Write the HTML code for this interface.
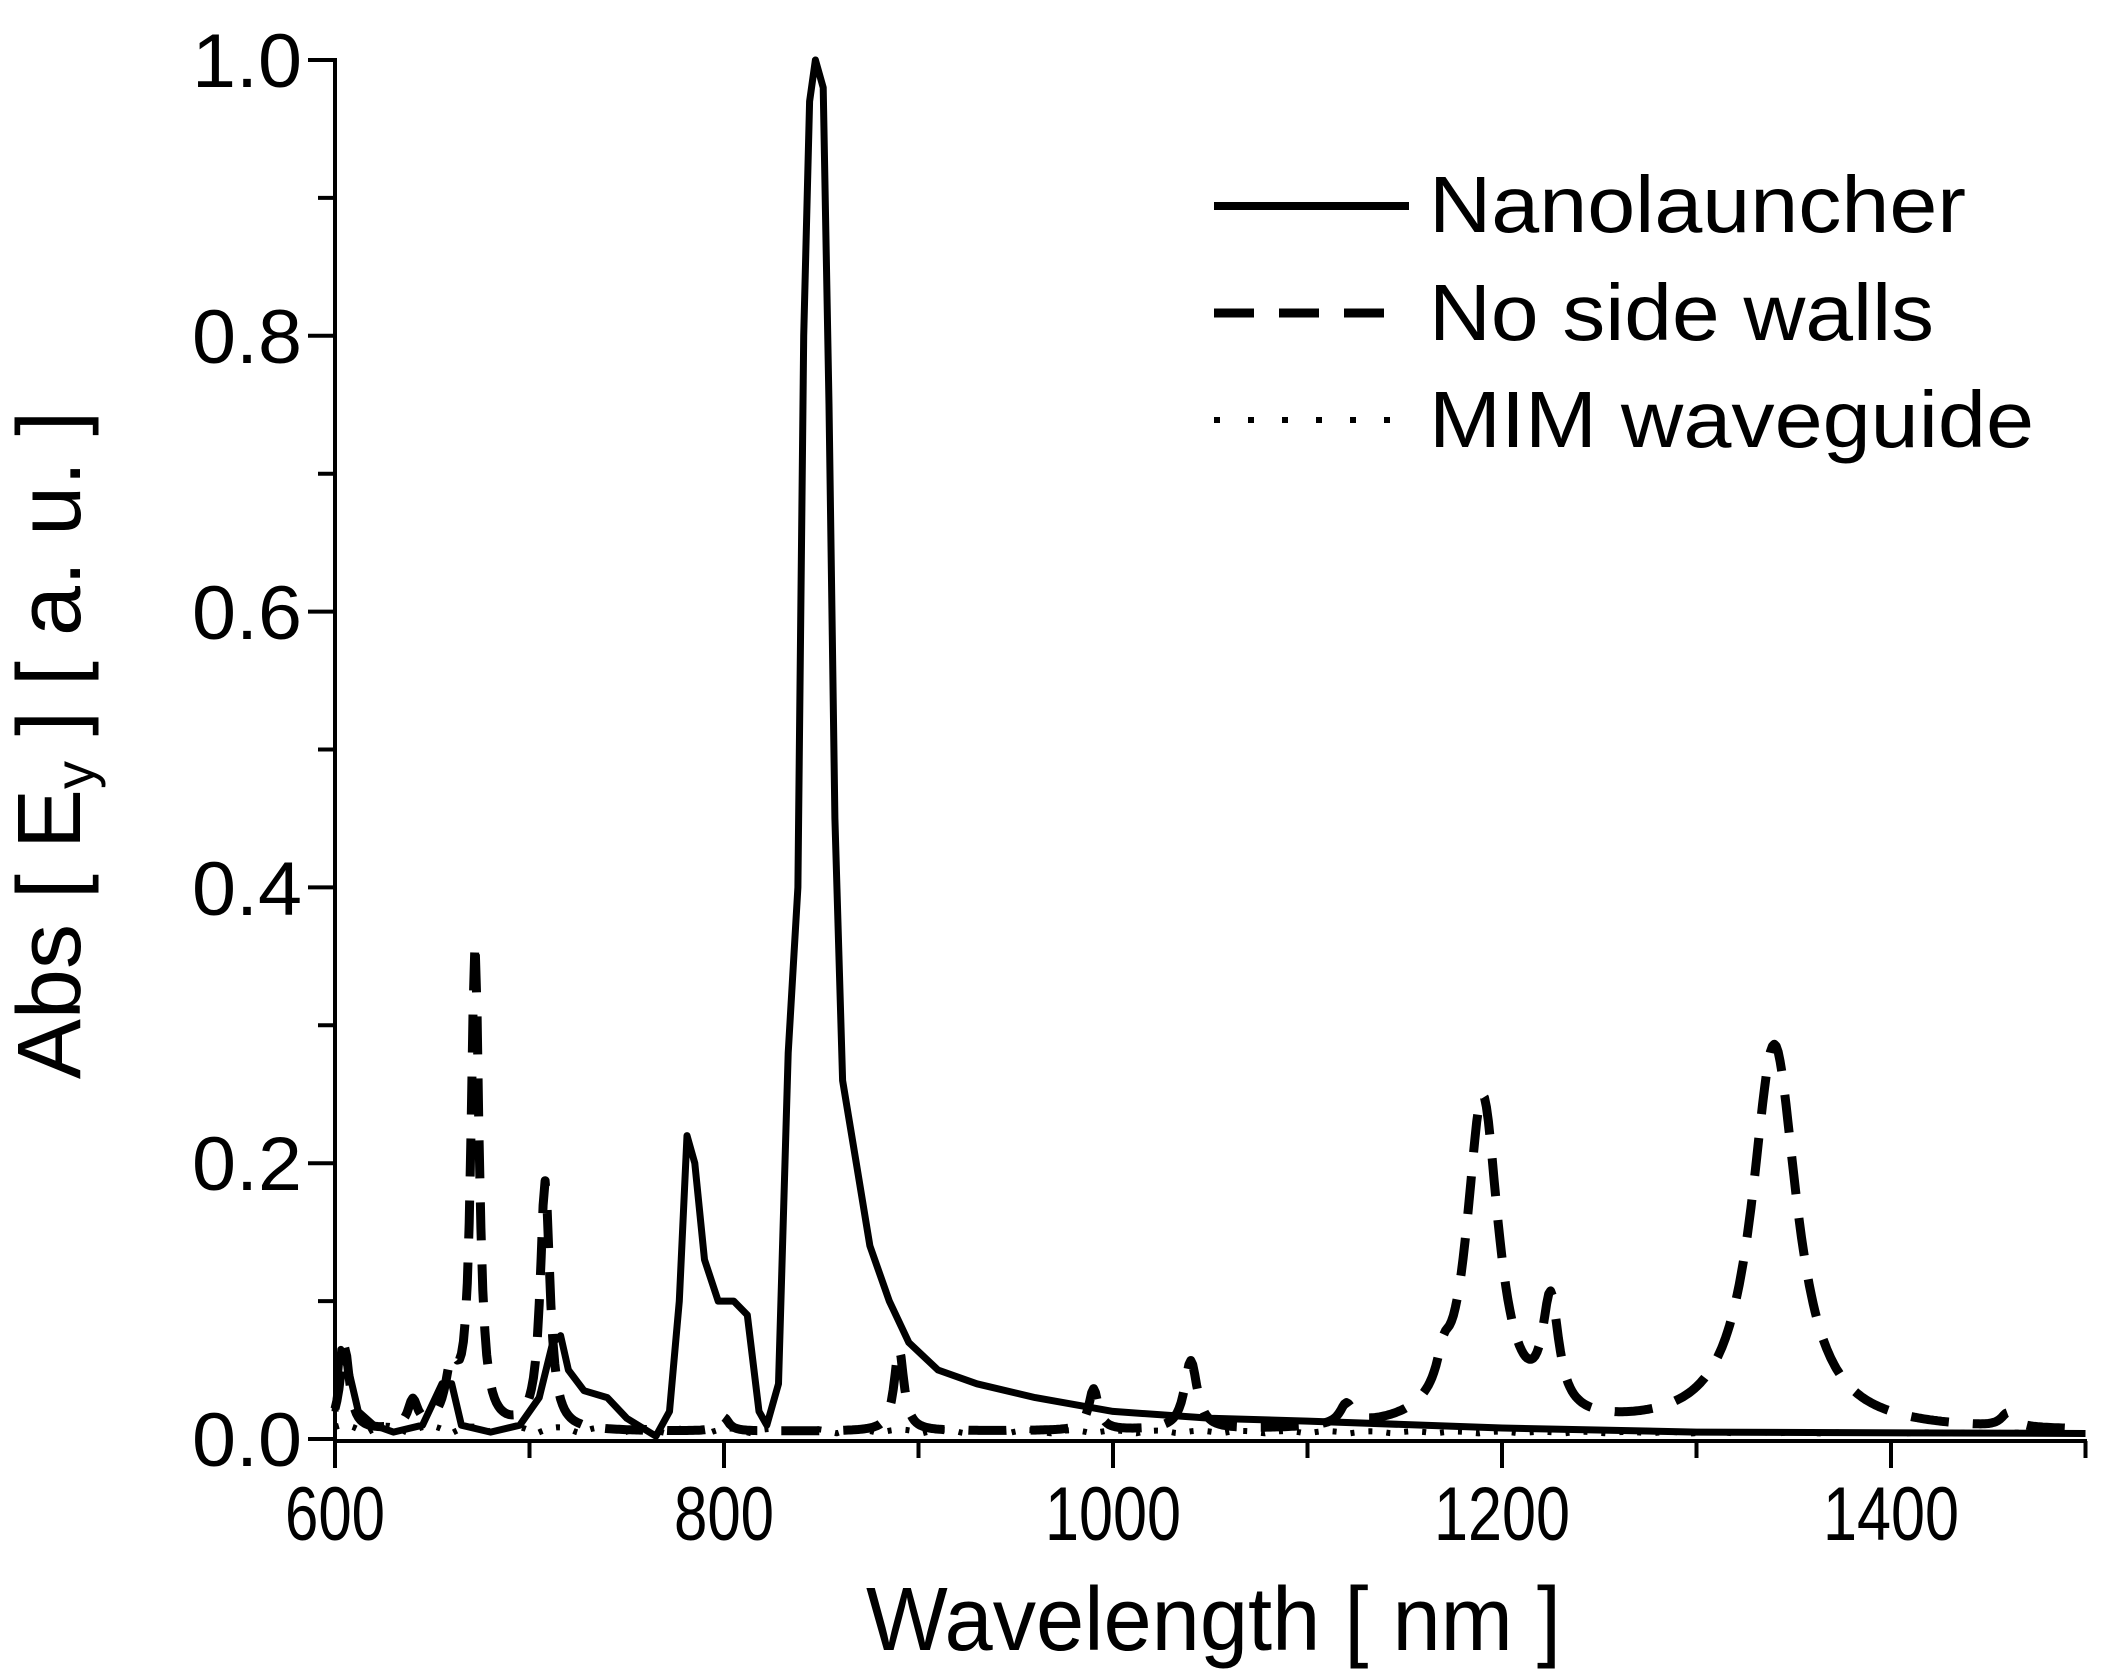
<!DOCTYPE html>
<html><head><meta charset="utf-8"><style>
html,body{margin:0;padding:0;background:#fff;width:2104px;height:1672px;overflow:hidden}
svg{display:block}
text{font-family:"Liberation Sans",sans-serif;fill:#000}
</style></head><body>
<svg id="s" width="2104" height="1672" viewBox="0 0 2104 1672" xmlns="http://www.w3.org/2000/svg">
<g id="axes" stroke="#000" stroke-width="4" fill="none"></g>
<g id="data"></g>
<g font-size="76">
<text x="302" y="87" text-anchor="end" textLength="110" lengthAdjust="spacingAndGlyphs">1.0</text>
<text x="302" y="363" text-anchor="end" textLength="110" lengthAdjust="spacingAndGlyphs">0.8</text>
<text x="302" y="639" text-anchor="end" textLength="110" lengthAdjust="spacingAndGlyphs">0.6</text>
<text x="302" y="915" text-anchor="end" textLength="110" lengthAdjust="spacingAndGlyphs">0.4</text>
<text x="302" y="1190" text-anchor="end" textLength="110" lengthAdjust="spacingAndGlyphs">0.2</text>
<text x="302" y="1466" text-anchor="end" textLength="110" lengthAdjust="spacingAndGlyphs">0.0</text>
<text x="335" y="1540" text-anchor="middle" textLength="100" lengthAdjust="spacingAndGlyphs">600</text>
<text x="724" y="1540" text-anchor="middle" textLength="100" lengthAdjust="spacingAndGlyphs">800</text>
<text x="1113" y="1540" text-anchor="middle" textLength="136" lengthAdjust="spacingAndGlyphs">1000</text>
<text x="1502" y="1540" text-anchor="middle" textLength="136" lengthAdjust="spacingAndGlyphs">1200</text>
<text x="1891" y="1540" text-anchor="middle" textLength="136" lengthAdjust="spacingAndGlyphs">1400</text>
</g>
<text x="866" y="1650" font-size="90" textLength="695" lengthAdjust="spacingAndGlyphs">Wavelength [ nm ]</text>
<text transform="translate(80,745) rotate(-90)" font-size="90" text-anchor="middle">Abs [ E<tspan font-size="56" dy="14">y</tspan><tspan dy="-14"> ] [ a. u. ]</tspan></text>
<g font-size="80">
<text x="1429" y="232" textLength="537" lengthAdjust="spacingAndGlyphs">Nanolauncher</text>
<text x="1429" y="340" textLength="505" lengthAdjust="spacingAndGlyphs">No side walls</text>
<text x="1429" y="447" textLength="605" lengthAdjust="spacingAndGlyphs">MIM waveguide</text>
</g>
<g stroke="#000" fill="none">
<line x1="1214" y1="206" x2="1409" y2="206" stroke-width="8"/>
<line x1="1214" y1="313" x2="1409" y2="313" stroke-width="9" stroke-dasharray="40 25"/>
<line x1="1214" y1="420" x2="1409" y2="420" stroke-width="6" stroke-dasharray="6 28"/>
</g>
</svg>
<script>
var NS="http://www.w3.org/2000/svg";
function X(l){return 335+(l-600)*1.945}
function Y(v){return 1439-v*1379}
var ax=document.getElementById('axes');
function ln(x1,y1,x2,y2){var e=document.createElementNS(NS,'line');e.setAttribute('x1',x1);e.setAttribute('y1',y1);e.setAttribute('x2',x2);e.setAttribute('y2',y2);ax.appendChild(e);}
ln(335,58,335,1441);ln(333,1441,2087,1441);
for(var i=0;i<=10;i++){var y=Y(i*0.1);ln(i%2==0?308:318,y,335,y);}
for(var l=600;l<=1500;l+=100){var x=X(l);ln(x,1441,x,(l%200==0)?1468:1458);}
var d=document.getElementById('data');
function path(pts,w,dash){var s='';pts.forEach(function(p,i){s+=(i?'L':'M')+X(p[0]).toFixed(1)+','+Y(p[1]).toFixed(1)});
var e=document.createElementNS(NS,'path');e.setAttribute('d',s);e.setAttribute('fill','none');e.setAttribute('stroke','#000');e.setAttribute('stroke-width',w);e.setAttribute('stroke-linejoin','round');if(dash)e.setAttribute('stroke-dasharray',dash);d.appendChild(e);}
var m=[];for(var l=600;l<=1500;l+=2){m.push([l,0.004+0.006*Math.abs(Math.sin(l/7))*Math.exp(-(l-600)/400)]);}
path(m,6,'4 14');
function L(x,x0,w,a){return a/(1+Math.pow((x-x0)/w,2))}
var pk=[[605,3,0.06],[640,3,0.02],[660,4,0.04],[672,2.5,0.35],[708,3,0.18],[800,3,0.01],[890,3,0.06],[990,3,0.03],[1040,4,0.05],[1120,4,0.015],[1170,4,0.02],[1190,10,0.24],[1225,5,0.08],[1340,14,0.28],[1460,4,0.01]];
var ds=[];for(var l=600;l<=1500;l+=1){var v=0.005;pk.forEach(function(p){v+=L(l,p[0],p[1],p[2])});ds.push([l,v]);}
path(ds,9,'38 24');
var s=[[600,0.02],[603,0.065],[607,0.05],[612,0.02],[620,0.01],[630,0.005],[645,0.01],[655,0.04],[660,0.04],[665,0.01],[680,0.005],[695,0.01],[705,0.03],[712,0.07],[716,0.075],[720,0.05],[728,0.035],[740,0.03],[750,0.015],[765,0.002],[772,0.02],[777,0.1],[781,0.22],[785,0.2],[790,0.13],[797,0.1],[805,0.1],[812,0.09],[818,0.02],[822,0.01],[828,0.04],[833,0.28],[838,0.4],[841,0.8],[844,0.97],[847,1.0],[851,0.98],[854,0.75],[857,0.45],[861,0.26],[868,0.2],[875,0.14],[885,0.1],[895,0.07],[910,0.05],[930,0.04],[960,0.03],[1000,0.02],[1050,0.015],[1100,0.013],[1200,0.008],[1300,0.005],[1500,0.004]];
path(s,7,null);
</script>
</body></html>
